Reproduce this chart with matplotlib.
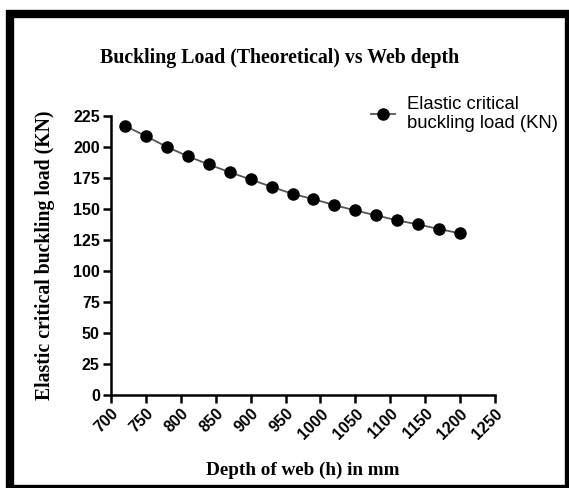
import matplotlib.pyplot as plt
from matplotlib.patches import Rectangle

depth = [720, 750, 780, 810, 840, 870, 900, 930, 960, 990,
         1020, 1050, 1080, 1110, 1140, 1170, 1200]
load = [217.2, 208.9, 200.2, 192.7, 186.0, 179.8, 173.9, 168.0, 162.3, 158.0,
        153.2, 148.9, 144.9, 140.9, 137.6, 133.9, 130.4]
xticks = list(range(700, 1251, 50))
yticks = list(range(0, 226, 25))

serif = "Liberation Serif"
sans = "Liberation Sans"

fig = plt.figure(figsize=(5.69, 4.88), dpi=100)
ax = fig.add_axes([0.195, 0.1906, 0.675, 0.5714])

ax.plot(depth, load, color="#555555", lw=1.3, marker="o", ms=8,
        mfc="black", mec="black", label="Elastic critical\nbuckling load (KN)")

ax.set_xlim(700, 1250)
ax.set_ylim(0, 225)
ax.set_xticks(xticks)
ax.set_yticks(yticks)
for s in ["top", "right"]:
    ax.spines[s].set_visible(False)
for s in ["left", "bottom"]:
    ax.spines[s].set_linewidth(1.8)
ax.tick_params(length=6, width=1.8, direction="out", pad=2)
for lab in ax.get_xticklabels():
    lab.set_rotation(45)
    lab.set_ha("right")
    lab.set_rotation_mode("anchor")
    lab.set_fontfamily(sans)
    lab.set_fontsize(11.5)
    lab.set_fontweight("bold")
for lab in ax.get_yticklabels():
    lab.set_fontfamily(sans)
    lab.set_fontsize(11.5)
    lab.set_fontweight("bold")

ax.set_xlabel("Depth of web (h) in mm", family=serif, fontsize=13.8,
              fontweight="bold", labelpad=14)
ax.set_ylabel("Elastic critical buckling load (KN)", family=serif, fontsize=14.2,
              fontweight="bold", labelpad=13)
fig.text(0.491, 0.881, "Buckling Load (Theoretical) vs Web depth", family=serif,
         fontsize=14.3, fontweight="bold", ha="center", va="center")

ax.legend(loc="center left", bbox_to_anchor=(0.622, 0.766),
          bbox_transform=fig.transFigure, frameon=False,
          prop={"family": sans, "size": 13.3}, handlelength=1.3,
          handletextpad=0.7, labelspacing=0.2)

# outer frame
fig.patches.append(Rectangle((9.5 / 569, 1 - 489 / 488), (569 - 9.5) / 569,
                             (489 - 14) / 488, transform=fig.transFigure,
                             fill=False, ec="black", lw=6))

fig.savefig("out.png", dpi=100)
